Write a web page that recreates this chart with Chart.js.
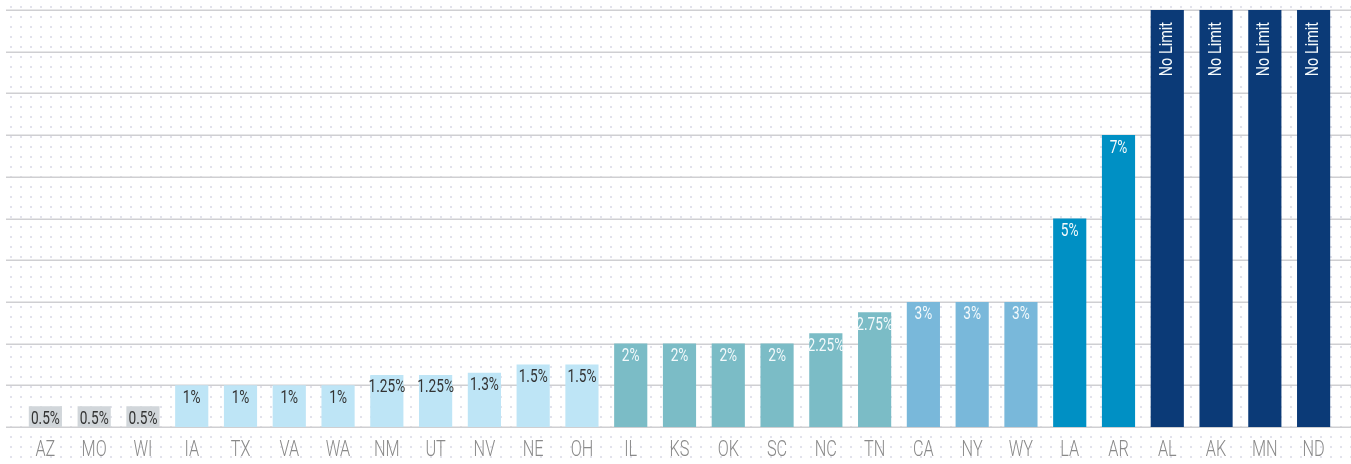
<!DOCTYPE html>
<html>
<head>
<meta charset="utf-8">
<script src="https://cdn.jsdelivr.net/npm/chart.js@4"></script>
<style>
  html, body { margin: 0; padding: 0; background: #fff; }
  #wrap { width: 1351px; height: 464px; }
</style>
</head>
<body>
<div id="wrap"><canvas id="chart" width="1351" height="464"></canvas></div>
<script>
// values
const states = ['AZ','MO','WI','IA','TX','VA','WA','NM','UT','NV','NE','OH','IL','KS','OK','SC','NC','TN','CA','NY','WY','LA','AR','AL','AK','MN','ND'];
const limits = [0.5,0.5,0.5,1,1,1,1,1.25,1.25,1.3,1.5,1.5,2,2,2,2,2.25,2.75,3,3,3,5,7,null,null,null,null];
const yMax = 10;
const yTicks = [0,1,2,3,4,5,6,7,8,9,10];

const FONT = 'Roboto, "Liberation Sans", sans-serif';

// shade by limit tier
function barColor(v) {
    if (v === null) return '#0b3a77';
    if (v >= 5) return '#0090c4';
    if (v >= 3) return '#79b8da';
    if (v >= 2) return '#7bbcc6';
    if (v >= 1) return '#bee5f6';
    return '#d1d6da';
}
function labelColor(v) {
    return (v === null || v >= 2) ? '#f4fafc' : '#333333';
}
function labelText(v) {
    return v === null ? 'No Limit' : v + '%';
}

// condensed text: no narrow face installed, so squeeze horizontally
function narrowText(ctx, text, x, y, size, squeeze, weight) {
    ctx.save();
    ctx.translate(x, y);
    ctx.scale(squeeze, 1);
    ctx.font = (weight || 400) + ' ' + size + 'px ' + FONT;
    ctx.fillText(text, 0, 0);
    ctx.restore();
}

// dotted backdrop + full-width grid lines
const backdrop = {
    id: 'backdrop',
    beforeDatasetsDraw(chart) {
        const { ctx, width, height, scales } = chart;
        ctx.save();
        ctx.fillStyle = '#e2e2ec';
        for (let x = 10; x < width; x += 10) {
            for (let y = 6; y < height; y += 10) {
                ctx.fillRect(x, y, 2, 2);
            }
        }
        ctx.strokeStyle = '#cfcfd2';
        ctx.lineWidth = 1.5;
        yTicks.forEach(t => {
            const y = Math.round(scales.y.getPixelForValue(t)) + 0.25;
            ctx.beginPath();
            ctx.moveTo(6, y);
            ctx.lineTo(width, y);
            ctx.stroke();
        });
        ctx.restore();
    }
};

// value labels inside the top of each bar, state names under the axis
const barLabels = {
    id: 'barLabels',
    afterDatasetsDraw(chart) {
        const { ctx, scales } = chart;
        const meta = chart.getDatasetMeta(0);
        ctx.save();
        meta.data.forEach((bar, i) => {
            const v = limits[i];
            ctx.fillStyle = labelColor(v);
            if (v === null) {
                ctx.save();
                ctx.translate(bar.x, bar.y + 12);
                ctx.rotate(-Math.PI / 2);
                ctx.textAlign = 'right';
                ctx.textBaseline = 'middle';
                narrowText(ctx, labelText(v), 0, 0, 18, 0.8, 400);
                ctx.restore();
            } else {
                ctx.textAlign = 'center';
                ctx.textBaseline = 'top';
                narrowText(ctx, labelText(v), bar.x, bar.y + 4, 18, 0.76, 400);
            }
        });

        ctx.fillStyle = '#8a8a8a';
        ctx.textAlign = 'center';
        ctx.textBaseline = 'middle';
        states.forEach((s, i) => {
            narrowText(ctx, s, scales.x.getPixelForValue(i), 450, 22, 0.74, 300);
        });
        ctx.restore();
    }
};

new Chart(document.getElementById('chart'), {
    type: 'bar',
    data: {
        labels: states,
        datasets: [{
            data: limits.map(v => v === null ? yMax : v),
            backgroundColor: limits.map(barColor),
            borderWidth: 0,
            barPercentage: 0.68,
            categoryPercentage: 1.0,
        }]
    },
    options: {
        responsive: false,
        animation: false,
        layout: { padding: { left: 21, right: 13, top: 10, bottom: 0 } },
        plugins: { legend: { display: false }, tooltip: { enabled: false } },
        scales: {
            x: {
                grid: { display: false },
                border: { display: false },
                ticks: { display: false },
                afterFit(scale) { scale.height = 37; }
            },
            y: {
                display: false,
                min: 0,
                max: yMax,
            }
        }
    },
    plugins: [backdrop, barLabels]
});
</script>
</body>
</html>
